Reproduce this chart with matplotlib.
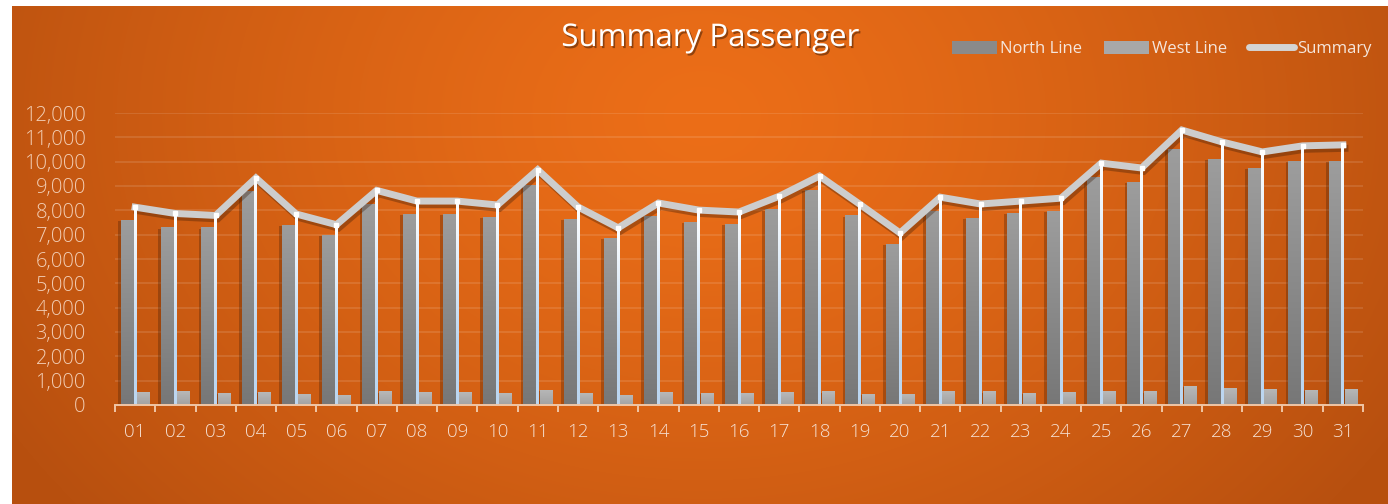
import numpy as np
import matplotlib
matplotlib.use("Agg")
import matplotlib.pyplot as plt
import matplotlib.patheffects as pe
from matplotlib.patches import Patch
from matplotlib.lines import Line2D
from matplotlib.ticker import FuncFormatter, FixedLocator

# ---------------- data ----------------
days = ['01', '02', '03', '04', '05', '06', '07', '08', '09', '10',
        '11', '12', '13', '14', '15', '16', '17', '18', '19', '20',
        '21', '22', '23', '24', '25', '26', '27', '28', '29', '30', '31']
north_line = [7600, 7300, 7300, 8800, 7400, 7000, 8250, 7850, 7850, 7730,
              9050, 7650, 6870, 7770, 7520, 7440, 8050, 8840, 7800, 6620,
              7970, 7690, 7890, 7970, 9370, 9170, 10520, 10110, 9740, 10030, 10030]
west_line = [530, 570, 490, 530, 450, 410, 570, 530, 530, 490,
             620, 490, 410, 530, 490, 490, 530, 570, 450, 450,
             570, 570, 490, 530, 570, 570, 780, 700, 660, 620, 660]
summary = [n + w for n, w in zip(north_line, west_line)]
y_ticks = list(range(0, 12001, 1000))

title = "Summary Passenger"
legend_labels = ["North Line", "West Line", "Summary"]

# ---------------- style ----------------
plt.rcParams['font.family'] = ['Open Sans', 'DejaVu Sans']
W, H = 1388, 504
fig = plt.figure(figsize=(W / 100, H / 100), dpi=100)
fig.patch.set_facecolor('white')

# background radial gradient (orange)
bx0, by_top = 12, 6
bw, bh = W - bx0, H - by_top
ax_bg = fig.add_axes([bx0 / W, 0, bw / W, bh / H], zorder=-10)
yy, xx = np.mgrid[0:bh, 0:bw]
cx, cy, rx, ry = 690, 110, 800, 620
d = np.sqrt(((xx - cx) / rx) ** 2 + ((yy - cy) / ry) ** 2)
t = np.clip(d, 0, 1) ** 1.3
c_center = np.array([236, 110, 24]) / 255
c_edge = np.array([184, 80, 15]) / 255
img = c_center[None, None, :] * (1 - t[..., None]) + c_edge[None, None, :] * t[..., None]
ax_bg.imshow(img, extent=[0, 1, 0, 1], aspect='auto', origin='upper')
ax_bg.set_axis_off()

# main plot area: x 115..1363 px, y value 0 at 405 px, 12000 at 113 px
px0, px1 = 115, 1363
py0, py12 = 405, 113
ax = fig.add_axes([px0 / W, (H - py0) / H, (px1 - px0) / W, (py0 - py12) / H])
ax.patch.set_alpha(0)

x = np.arange(len(days))
n_off, n_w = -0.19, 0.33
w_off, w_w = 0.21, 0.32
drop_w = 0.07


def grad_bars(xs, heights, width, c_top, c_bot, z, shadow=True, split=1.0):
    effects = ([pe.SimplePatchShadow(offset=(-2, -1), shadow_rgbFace='#3a1a05', alpha=0.3), pe.Normal()]
               if shadow else None)
    bars = ax.bar(xs, heights, width=width, color=c_bot, zorder=z, linewidth=0,
                  path_effects=effects)
    top = np.array(matplotlib.colors.to_rgb(c_top))
    bot = np.array(matplotlib.colors.to_rgb(c_bot))
    g = np.clip(np.linspace(0, 1, 128) / split, 0, 1)[:, None]
    grad = top[None, :] * (1 - g) + bot[None, :] * g
    grad = grad[:, None, :]
    for b in bars:
        x0 = b.get_x()
        im = ax.imshow(grad, extent=[x0, x0 + b.get_width(), 0, b.get_height()],
                       aspect='auto', origin='upper', zorder=z + 0.1, interpolation='bilinear')
        im.set_clip_path(b)
    return bars


grad_bars(x + n_off, north_line, n_w, '#9d9d9d', '#777777', 3)
grad_bars(x + w_off, west_line, w_w, '#b8b8b8', '#a2a2a2', 3)

# summary line
ax.plot(x, summary, color='#cdcdcd', lw=5, solid_joinstyle='miter', zorder=5,
        path_effects=[pe.SimpleLineShadow(offset=(1.5, -2.5), shadow_color='#3a1a05', alpha=0.35),
                      pe.Normal()])

# drop lines (white at top, light blue toward the bottom)
grad_bars(x, summary, drop_w, '#ffffff', '#bcd6f0', 6, shadow=False, split=0.7)
ax.plot(x, summary, linestyle='none', marker='s', ms=3.2, color='white', zorder=7)

# axes formatting
ax.set_xlim(-0.5, len(days) - 0.5)
ax.set_ylim(0, 12000)
ax.yaxis.set_major_locator(FixedLocator(y_ticks))
ax.yaxis.set_major_formatter(FuncFormatter(lambda v, p: f"{int(v):,}"))
ax.set_xticks(x)
ax.set_xticklabels(days)
ax.xaxis.set_minor_locator(FixedLocator(np.arange(-0.5, len(days), 1.0)))
ax.tick_params(axis='x', which='major', length=0, pad=13, labelsize=13.5, labelcolor='#f6e0d2')
ax.tick_params(axis='x', which='minor', length=5, width=1.4, color='#f0c6a6', direction='out')
ax.tick_params(axis='y', length=0, pad=21, labelsize=14.5, labelcolor='#f2cdb4')
for lab in ax.get_yticklabels() + ax.get_xticklabels():
    lab.set_fontweight('light')
for sp in ['top', 'right', 'left']:
    ax.spines[sp].set_visible(False)
ax.spines['bottom'].set_color('#f0c6a6')
ax.spines['bottom'].set_linewidth(1.4)
ax.spines['bottom'].set_zorder(8)
ax.grid(axis='y', color='white', alpha=0.13, lw=1.2, zorder=0)
ax.set_axisbelow(True)

# title
fig.text(710 / W, 1 - 38 / H, title, ha='center', va='center', fontsize=22.5,
         color='white', fontweight='normal',
         path_effects=[pe.SimplePatchShadow(offset=(1.2, -1.5), shadow_rgbFace='#3a1a05', alpha=0.5),
                       pe.Normal()])

# legend
handles = [Patch(facecolor='#8a8a8a', edgecolor='none'),
           Patch(facecolor='#a8a8a8', edgecolor='none'),
           Line2D([0], [0], color='#d4d4d4', lw=5, solid_capstyle='round')]
leg = fig.legend(handles, legend_labels, loc='center right', bbox_to_anchor=(1380 / W, 1 - 49 / H),
                 ncol=3, frameon=False, fontsize=12, handlelength=2.7, handleheight=0.8,
                 handletextpad=0.2, columnspacing=1.3, borderpad=0)
for tx in leg.get_texts():
    tx.set_color('#f5e6dc')

fig.savefig('out.png', dpi=100, facecolor=fig.get_facecolor())
